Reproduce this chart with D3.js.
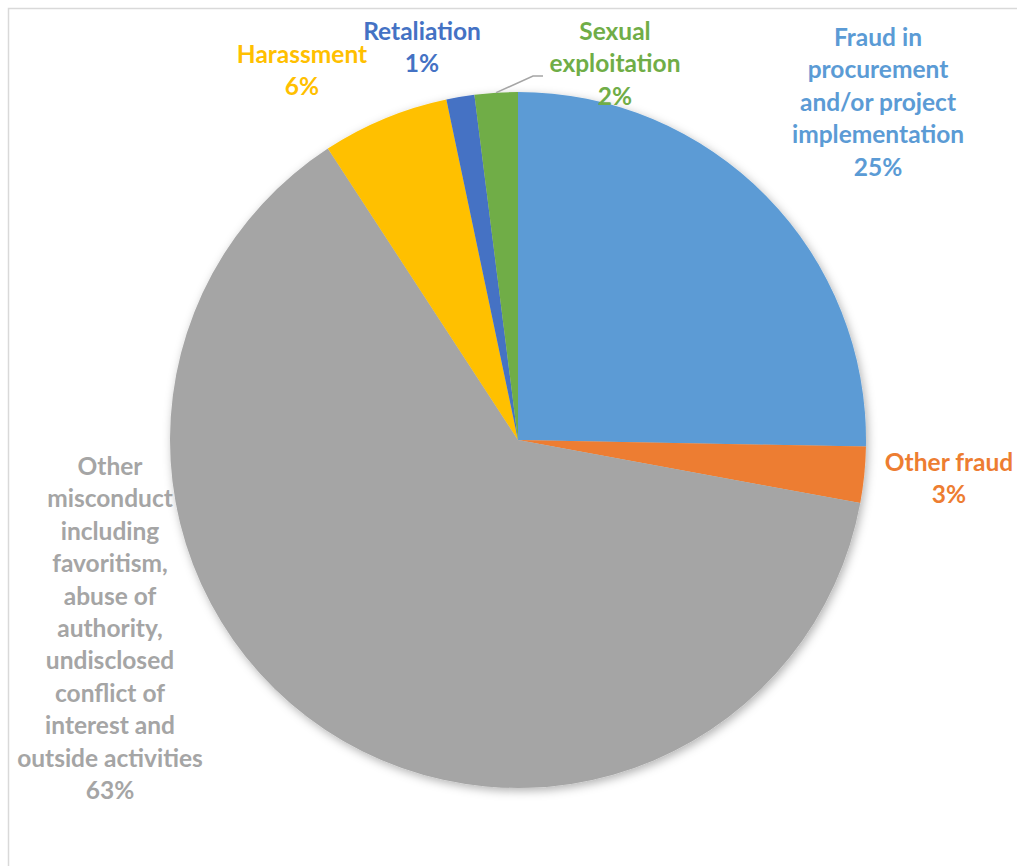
<!DOCTYPE html>
<html>
<head>
<meta charset="utf-8">
<script src="https://cdn.jsdelivr.net/npm/d3@7"></script>
<style>
  html, body { margin: 0; padding: 0; background: #fff; }
  svg { display: block; }
  text { font-family: Lato, "Open Sans", sans-serif; font-weight: bold; }
</style>
</head>
<body>
<svg id="chart" width="1017" height="866"></svg>
<script>
// ---- data ----
const categories = [
  "Fraud in procurement and/or project implementation",
  "Other fraud",
  "Other misconduct including favoritism, abuse of authority, undisclosed conflict of interest and outside activities",
  "Harassment",
  "Retaliation",
  "Sexual exploitation"
];
const values = [25.3, 2.6, 62.9, 5.9, 1.3, 2.0];
const labelLines = [
  ["Fraud in", "procurement", "and/or project", "implementation"],
  ["Other fraud"],
  ["Other", "misconduct", "including", "favoritism,", "abuse of", "authority,", "undisclosed", "conflict of", "interest and", "outside activities"],
  ["Harassment"],
  ["Retaliation"],
  ["Sexual", "exploitation"]
];
const colors = ["#5B9BD5", "#ED7D31", "#A5A5A5", "#FFC000", "#4472C4", "#70AD47"];

// ---- layout ----
const W = 1017, H = 866;
const cx = 518, cy = 440, R = 348;
const fontSize = 24.5, lineH = 32.4;
// label block centers (x) and first-line baselines (y)
const labelPos = [
  [878, 46],
  [949, 471],
  [110, 475],
  [302, 63],
  [422, 40],
  [615, 40]
];

const svg = d3.select("#chart");

// plot area frame (top + left visible)
svg.append("rect")
  .attr("x", 8.5).attr("y", 8.5)
  .attr("width", W + 20).attr("height", H + 20)
  .attr("fill", "none").attr("stroke", "#d9d9d9").attr("stroke-width", 1.5);

const defs = svg.append("defs");
const f = defs.append("filter").attr("id", "shadow")
  .attr("x", "-10%").attr("y", "-10%").attr("width", "120%").attr("height", "120%");
f.append("feDropShadow").attr("dx", 2).attr("dy", 3).attr("stdDeviation", 5)
  .attr("flood-color", "#000").attr("flood-opacity", 0.3);

const data = categories.map((c, i) => ({ name: c, value: values[i], color: colors[i], lines: labelLines[i], pos: labelPos[i] }));

const pie = d3.pie().sort(null).value(d => d.value);
const arcs = pie(data);
const arc = d3.arc().innerRadius(0).outerRadius(R);

const g = svg.append("g").attr("transform", `translate(${cx},${cy})`);
const sliceG = g.append("g").attr("filter", "url(#shadow)");
sliceG.selectAll("path").data(arcs).join("path")
  .attr("d", arc)
  .attr("fill", d => d.data.color);

// leader line for Sexual exploitation
const sx = arcs[5];
const midA = (sx.startAngle + sx.endAngle) / 2;
const p0 = [Math.sin(midA) * R, -Math.cos(midA) * R];
svg.append("polyline")
  .attr("points", [[cx + p0[0], cy + p0[1]], [533, 76], [543, 76]].map(p => p.join(",")).join(" "))
  .attr("fill", "none").attr("stroke", "#A5A5A5").attr("stroke-width", 1.5);

// labels
const total = d3.sum(values);
const labels = svg.append("g");
data.forEach(d => {
  const t = labels.append("text")
    .attr("text-anchor", "middle")
    .attr("fill", d.color)
    .attr("font-size", fontSize);
  const lines = d.lines.concat([Math.round(d.value / total * 100) + "%"]);
  lines.forEach((ln, j) => {
    t.append("tspan").attr("x", d.pos[0]).attr("y", d.pos[1] + j * lineH).text(ln);
  });
});
</script>
</body>
</html>
